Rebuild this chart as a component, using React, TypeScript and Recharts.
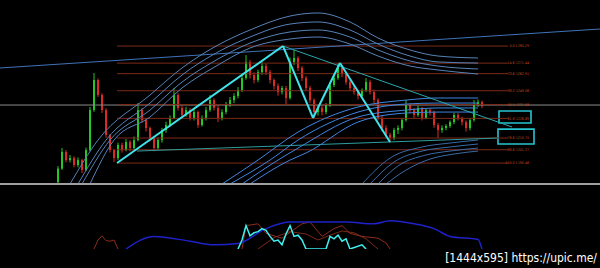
import React from 'react';
import {
  ComposedChart, LineChart, Bar, Line, XAxis, YAxis,
  ReferenceLine, ReferenceArea, ReferenceDot
} from 'recharts';

// candles, one per bar index
const firstOpen = 1175;
const closes = [
  1186.0, 1199.4, 1192.9, 1194.5, 1188.9, 1192.9, 1184.8, 1201.0, 1233.4, 1257.8,
  1245.6, 1233.4, 1213.2, 1201.0, 1194.5, 1205.1, 1201.0, 1207.5, 1202.7, 1209.1,
  1233.4, 1225.3, 1218.9, 1210.7, 1202.7, 1209.1, 1217.2, 1221.3, 1227.0, 1245.6,
  1235.1, 1229.4, 1233.4, 1227.0, 1231.8, 1221.3, 1227.0, 1233.4, 1241.5, 1235.1,
  1227.0, 1231.8, 1237.5, 1241.5, 1244.8, 1249.7, 1259.4, 1272.4, 1261.8, 1257.8,
  1264.2, 1269.1, 1264.2, 1257.8, 1252.9, 1248.0, 1251.3, 1243.2, 1272.4, 1275.6,
  1267.5, 1259.4, 1251.3, 1241.5, 1231.8, 1235.1, 1231.8, 1237.5, 1253.7, 1259.4,
  1267.5, 1262.6, 1256.1, 1251.3, 1248.0, 1244.8, 1249.7, 1256.1, 1248.0, 1241.5,
  1227.0, 1218.9, 1213.2, 1210.7, 1217.2, 1218.9, 1225.3, 1237.5, 1233.4, 1229.4,
  1235.1, 1227.0, 1233.4, 1231.8, 1221.3, 1217.2, 1218.9, 1220.5, 1223.7, 1229.4,
  1227.0, 1223.7, 1218.9, 1225.3, 1237.5, 1239.9, 1236.7,
];
const highs = [
  1188, 1202.7, 1201, 1197, 1196, 1195, 1194, 1203, 1236, 1263.4,
  1259, 1247, 1235, 1214, 1202, 1207, 1207, 1210, 1209, 1212,
  1239.1, 1235, 1227, 1220, 1212, 1211, 1219, 1224, 1229, 1251.3,
  1247, 1237, 1236, 1235, 1234, 1233, 1229, 1236, 1245.6, 1243,
  1237, 1234, 1240, 1244, 1247, 1252, 1262, 1278, 1274, 1264,
  1266, 1272.4, 1271, 1266, 1259, 1255, 1253, 1253, 1276, 1282.1,
  1277, 1269, 1261, 1253, 1243, 1237, 1237, 1239, 1256, 1262,
  1271.5, 1269, 1264, 1258, 1253, 1250, 1251, 1259.4, 1258, 1250,
  1243, 1229, 1221, 1215, 1219, 1221, 1227, 1241.5, 1239, 1235,
  1237, 1236, 1235, 1235, 1233, 1223, 1221, 1222, 1225, 1231,
  1231, 1228, 1225, 1227, 1241.5, 1242, 1241,
];
const lows = [
  1174, 1185, 1191, 1191, 1187, 1187, 1182.4, 1184, 1200, 1232,
  1244, 1231, 1211, 1199, 1191.3, 1193, 1199, 1200, 1200, 1201,
  1208, 1223, 1216, 1208, 1200, 1201, 1207, 1215, 1220, 1226,
  1233, 1227, 1228, 1225, 1225, 1219, 1220, 1225, 1232, 1233,
  1223.7, 1225, 1230, 1236, 1239, 1243, 1248, 1258, 1259, 1255,
  1256, 1262, 1262, 1255, 1250, 1245, 1246, 1237.5, 1242, 1270,
  1265, 1257, 1249, 1239, 1227, 1229, 1229, 1230, 1236, 1252,
  1258, 1260, 1254, 1249, 1246, 1242, 1243, 1248, 1246, 1239,
  1225, 1216, 1211, 1207.5, 1209, 1214, 1217, 1224, 1231, 1227,
  1228, 1225, 1226, 1229, 1219, 1210.7, 1215, 1217, 1219, 1222,
  1225, 1221, 1216, 1217, 1224, 1236, 1235,
];

// envelope bands [bar index, price]
const bandsUpper: [number, number][][] = [
  [[3, 1173.5], [10, 1209.1], [23, 1245.6], [31, 1267.5], [40, 1286.1], [48, 1298.3], [58, 1309.6], [65, 1312.1], [73, 1304.8], [80, 1291.8], [88, 1282.1], [95, 1277.2], [105, 1275.6]],
  [[5, 1173.5], [12, 1209.1], [23, 1239.1], [31, 1261.8], [40, 1280.5], [48, 1292.6], [58, 1303.1], [65, 1304.8], [73, 1298.3], [80, 1286.9], [88, 1277.2], [95, 1272.4], [105, 1271.5]],
  [[6, 1173.5], [13, 1209.1], [23, 1233.4], [31, 1256.1], [40, 1274.8], [48, 1287.7], [58, 1296.7], [65, 1298.3], [73, 1292.6], [80, 1282.1], [88, 1273.2], [95, 1269.1], [105, 1266.7]],
  [[8, 1173.5], [14, 1209.1], [23, 1227.8], [31, 1251.3], [40, 1269.9], [48, 1283.7], [58, 1291.0], [65, 1292.6], [73, 1286.9], [80, 1277.2], [88, 1269.1], [95, 1265.9], [105, 1262.6]],
];
const bandsMiddle: [number, number][][] = [
  [[41, 1173.5], [50, 1192.9], [60, 1215.6], [75, 1235.9], [87, 1241.5], [95, 1243.2], [105, 1243.2]],
  [[43, 1173.5], [53, 1192.9], [60, 1209.1], [75, 1231.8], [87, 1238.3], [95, 1239.1], [105, 1239.1]],
  [[46, 1173.5], [55, 1192.9], [60, 1202.6], [75, 1227.8], [87, 1233.4], [95, 1235.1], [105, 1235.1]],
  [[48, 1173.5], [58, 1192.9], [62, 1198.6], [75, 1223.7], [87, 1231.0], [95, 1231.8], [105, 1231.8]],
];
const bandsLower: [number, number][][] = [
  [[76, 1173.5], [83, 1194.5], [91, 1203.5], [98, 1206.7], [105, 1209.1]],
  [[78, 1173.5], [84, 1191.3], [91, 1200.2], [98, 1203.5], [105, 1205.9]],
  [[80, 1173.5], [85, 1188.1], [92, 1197.0], [98, 1200.2], [105, 1202.6]],
  [[82, 1173.5], [87, 1184.8], [93, 1193.7], [99, 1197.8], [105, 1200.2]],
];

// fibonacci retracement
const fibHigh = 1285.29;
const fibLow = 1190.46;
const fibLevels = [0, 14.6, 23.6, 38.2, 50.0, 61.8, 78.6, 88.6, 100];
const fibStart = 14.75;
const fibEnd = 112.5;

// drawn objects
const zigzag: [number, number][] = [[14.75, 1190.5], [56.25, 1285.3], [63.75, 1227.0], [70.5, 1271.5], [83, 1207.5]];
const trendBlue: [number, number][] = [[-14.5, 1267.5], [135.5, 1299.1]];
const trendTeal: [number, number][] = [[56.25, 1285.3], [113.5, 1219.7]];
const supportTeal: [number, number][] = [[19.75, 1200.2], [109.75, 1210.7]];
const grayLevel = 1237.5;
const boxes = [
  { x1: 110.25, x2: 118.25, y1: 1222.9, y2: 1232.6 },
  { x1: 110, x2: 119, y1: 1205.9, y2: 1218.0 },
];

// lower indicator window
const indBlue: [number, number][] = [[17, -5], [24, 16], [33, 8], [39, 2], [45, 4], [52, 29], [58, 40], [72, 40], [79, 37], [83, 42], [89, 37], [94, 29], [98, 16], [105, 11], [106, -5]];
const indRedA: [number, number][] = [[9, -5], [10, 10], [11, 17], [12, 9], [13, 8], [14, 10], [15, -5]];
const indRedB: [number, number][] = [[46, -5], [47, 34], [50, 37], [52, 21], [56, 13], [61, 37], [63, 40], [66, 16], [69, 29], [71, 34], [73, 21], [76, 16], [80, 13], [82, 5], [83, -5]];
const indRedC: [number, number][] = [[50, -5], [54, 14], [58, 24], [62, 20], [65, 10], [68, 18], [71, 25], [74, 22], [77, 12], [80, -5]];
const indCyan: [number, number][] = [[45, -5], [46, 10], [47, 34], [48, 17], [49, 22], [50, 24], [51, 29], [52, 26], [53, 16], [54, 8], [55, 10], [56, 2], [57, 20], [58, 34], [59, 16], [60, 18], [61, 10], [62, -5], [67, -5], [68, 16], [69, 12], [70, 18], [71, 8], [72, 12], [73, -5], [76, 2], [77, -5]];

const X_DOMAIN: [number, number] = [-14.5, 135.5];

const addSeries = (rows: Map<number, any>, key: string, pts: [number, number][]) => {
  pts.forEach(([t, v]) => {
    const r = rows.get(t) ?? { t };
    r[key] = v;
    rows.set(t, r);
  });
};

const mainRows = new Map<number, any>();
closes.forEach((c, i) => {
  mainRows.set(i, {
    t: i,
    open: i === 0 ? firstOpen : closes[i - 1],
    close: c,
    high: highs[i],
    low: lows[i],
  });
});
bandsUpper.forEach((b, k) => addSeries(mainRows, 'u' + k, b));
bandsMiddle.forEach((b, k) => addSeries(mainRows, 'm' + k, b));
bandsLower.forEach((b, k) => addSeries(mainRows, 'l' + k, b));
const mainData = [...mainRows.values()].sort((a, b) => a.t - b.t);

const indRows = new Map<number, any>();
addSeries(indRows, 'blue', indBlue);
addSeries(indRows, 'redA', indRedA);
addSeries(indRows, 'redB', indRedB);
addSeries(indRows, 'redC', indRedC);
addSeries(indRows, 'cyan', indCyan);
const indData = [...indRows.values()].sort((a, b) => a.t - b.t);

const Candle = (props: any) => {
  const { x, y, width, height, payload } = props;
  if (payload == null || payload.high == null) return null;
  const { open, close, high, low } = payload;
  const top = Math.min(y, y + height);
  const h = Math.abs(height);
  const k = h / (high - low);
  const yo = top + (high - open) * k;
  const yc = top + (high - close) * k;
  const color = close >= open ? '#24c824' : '#dc2a22';
  const cx = x + width / 2;
  return (
    <g>
      <line x1={cx} x2={cx} y1={top} y2={top + h} stroke={color} strokeWidth={1} />
      <rect x={x} y={Math.min(yo, yc)} width={width} height={Math.max(1, Math.abs(yc - yo))} fill={color} />
    </g>
  );
};

const fibPrice = (lvl: number) => fibHigh - (fibHigh - fibLow) * lvl / 100;

const bandLine = (key: string, color: string) => (
  <Line key={key} dataKey={key} type="monotone" stroke={color} strokeWidth={1} dot={false}
    connectNulls isAnimationActive={false} />
);

const seg = (pts: [number, number][], color: string, w: number, key: string) => (
  <ReferenceLine key={key} segment={[{ x: pts[0][0], y: pts[0][1] }, { x: pts[1][0], y: pts[1][1] }]}
    stroke={color} strokeWidth={w} ifOverflow="visible" />
);

export default function App() {
  return (
    <div style={{ position: 'absolute', left: 0, top: 0, width: 600, height: 268, background: '#000', overflow: 'hidden' }}>
      <ComposedChart width={600} height={184} data={mainData} margin={{ top: 0, right: 0, bottom: 0, left: 0 }}>
        <XAxis dataKey="t" type="number" domain={X_DOMAIN} hide allowDataOverflow />
        <YAxis type="number" domain={[1173.5, 1322.6]} hide allowDataOverflow />
        <ReferenceLine y={grayLevel} stroke="#8a8a8a" strokeWidth={1} />
        {fibLevels.map((lvl) => (
          <ReferenceLine key={'f' + lvl}
            segment={[{ x: fibStart, y: fibPrice(lvl) }, { x: fibEnd, y: fibPrice(lvl) }]}
            stroke="#7d2a17" strokeWidth={1} />
        ))}
        {fibLevels.map((lvl) => (
          <ReferenceDot key={'fl' + lvl} x={117.75} y={fibPrice(lvl)} ifOverflow="visible"
            shape={(p: any) => (
              <text x={p.cx} y={p.cy + 1.2} textAnchor="end" fontSize={3.6}
                fontFamily="'Liberation Sans Narrow', 'DejaVu Sans Condensed', sans-serif" fill="#c8441e">
                {lvl.toFixed(1) + ' ' + fibPrice(lvl).toFixed(2)}
              </text>
            )} />
        ))}
        {seg(trendBlue, '#3f73b8', 1, 'tb')}
        {seg(supportTeal, '#2f9c9e', 1, 'st')}
        {bandsUpper.map((_, k) => bandLine('u' + k, '#5682b6'))}
        {bandsMiddle.map((_, k) => bandLine('m' + k, '#3f86e0'))}
        {bandsLower.map((_, k) => bandLine('l' + k, '#3a6aa4'))}
        <Bar dataKey={(d: any) => (d.high == null ? null : [d.low, d.high])} barSize={2}
          shape={Candle} isAnimationActive={false} />
        {seg(trendTeal, '#2aa6ac', 1, 'tt')}
        {zigzag.slice(1).map((p, i) => seg([zigzag[i], p], '#3fe3ea', 2, 'z' + i))}
        {boxes.map((b, i) => (
          <ReferenceArea key={'b' + i} x1={b.x1} x2={b.x2} y1={b.y1} y2={b.y2}
            fill="none" stroke="#27c4d2" strokeWidth={1.6} ifOverflow="visible" />
        ))}
      </ComposedChart>
      <div style={{ position: 'absolute', left: 0, top: 183, width: 600, height: 2, background: '#a0a0a0' }} />
      <div style={{ position: 'absolute', left: 0, top: 186 }}>
        <LineChart width={600} height={63} data={indData} margin={{ top: 0, right: 0, bottom: 0, left: 0 }}>
          <XAxis dataKey="t" type="number" domain={X_DOMAIN} hide allowDataOverflow />
          <YAxis type="number" domain={[0, 100]} hide />
          <Line dataKey="redA" type="linear" stroke="#8c2c1c" dot={false} connectNulls isAnimationActive={false} />
          <Line dataKey="redC" type="linear" stroke="#7a2818" dot={false} connectNulls isAnimationActive={false} />
          <Line dataKey="redB" type="linear" stroke="#8c2c1c" dot={false} connectNulls isAnimationActive={false} />
          <Line dataKey="blue" type="monotone" stroke="#1e22c8" strokeWidth={1.5} dot={false} connectNulls isAnimationActive={false} />
          <Line dataKey="cyan" type="linear" stroke="#3ff0f0" strokeWidth={1.5} dot={false} connectNulls isAnimationActive={false} />
        </LineChart>
      </div>
      <div style={{
        position: 'absolute', right: 3, top: 251, color: '#fff', fontSize: 12, whiteSpace: 'nowrap',
        fontFamily: "'DejaVu Sans Condensed', 'Liberation Sans', sans-serif",
      }}>
        [1444x595] https://upic.me/
      </div>
    </div>
  );
}
